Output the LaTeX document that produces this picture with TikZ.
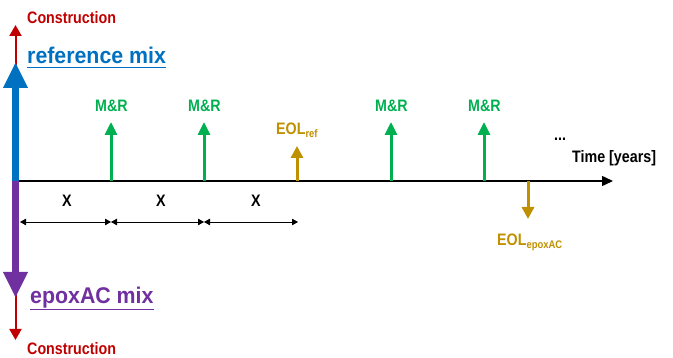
\documentclass[tikz,border=0pt]{standalone}
\usepackage{fontspec}
\setmainfont{Liberation Sans}[FakeStretch=0.86]
\newfontfamily\bigf{Liberation Sans}[FakeStretch=0.94]
\usetikzlibrary{arrows.meta}
\definecolor{cred}{RGB}{192,0,0}
\definecolor{cblue}{RGB}{0,112,192}
\definecolor{cpurple}{RGB}{112,48,160}
\definecolor{cgreen}{RGB}{0,176,80}
\definecolor{cgold}{RGB}{191,144,0}
\tikzset{
  lbl/.style={inner sep=0pt, anchor=base west, font=\bfseries\fontsize{16.6}{16.6}\selectfont},
  big/.style={inner sep=0pt, anchor=base west, font=\bigf\bfseries\fontsize{22.7}{22.7}\selectfont},
  constr/.style={draw=cred, line width=2pt, -{Triangle[width=12pt,length=11pt]}, cred},
  mainup/.style={draw=cblue, line width=6.5pt, -{Triangle[width=23pt,length=26pt]}, cblue},
  maindown/.style={draw=cpurple, line width=6.5pt, -{Triangle[width=23pt,length=26pt]}, cpurple},
  mr/.style={draw=cgreen, line width=3pt, -{Triangle[width=12pt,length=13pt]}, cgreen},
  eol/.style={draw=cgold, line width=3pt, -{Triangle[width=12pt,length=12pt]}, cgold},
  axis/.style={draw=black, line width=1.5pt, -{Triangle[width=10pt,length=11pt]}},
  dim/.style={draw=black, line width=0.8pt, {Triangle[width=6.5pt,length=6pt]}-{Triangle[width=6.5pt,length=6pt]}},
  ul/.style={line width=1.5pt}
}
\begin{document}
\begin{tikzpicture}[x=1pt,y=-1pt]
\useasboundingbox (0,0) rectangle (673,358);
% coordinates
\coordinate (o) at (15.5,181);
\coordinate (ax0) at (19,181);
\coordinate (axend) at (613,181);
\coordinate (ctop0) at (15.5,80);
\coordinate (ctop) at (15.5,25);
\coordinate (btop) at (15.5,62);
\coordinate (cbot0) at (15.5,285);
\coordinate (cbot) at (15.5,340);
\coordinate (pbot) at (15.5,298);
\coordinate (m1a) at (111,181); \coordinate (m1b) at (111,122);
\coordinate (m2a) at (204,181); \coordinate (m2b) at (204,122);
\coordinate (m3a) at (391,181); \coordinate (m3b) at (391,122);
\coordinate (m4a) at (484,181); \coordinate (m4b) at (484,122);
\coordinate (era) at (297,181); \coordinate (erb) at (297,146);
\coordinate (eea) at (528,181); \coordinate (eeb) at (528,219);
\coordinate (d0) at (20,222); \coordinate (d1) at (111,222);
\coordinate (d2) at (204,222); \coordinate (d3) at (298,222);
% vertical main arrows
\draw[constr] (ctop0) -- (ctop);
\draw[constr] (cbot0) -- (cbot);
\draw[mainup] (o) -- (btop);
\draw[maindown] (o) -- (pbot);
% axis
\draw[axis] (ax0) -- (axend);
% event arrows
\draw[mr] (m1a) -- (m1b);
\draw[mr] (m2a) -- (m2b);
\draw[mr] (m3a) -- (m3b);
\draw[mr] (m4a) -- (m4b);
\draw[eol] (era) -- (erb);
\draw[eol] (eea) -- (eeb);
% dimension arrows
\draw[dim] (d0) -- (d1);
\draw[dim] (d1) -- (d2);
\draw[dim] (d2) -- (d3);
% labels
\node[lbl, text=cred] (cons1) at (27,24) {Construction};
\node[lbl, text=cred] (cons2) at (27,355) {Construction};
\node[big, text=cblue] (ref) at (27,64) {reference mix};
\draw[ul, cblue] ([yshift=-3.5pt]ref.base west) -- ([yshift=-3.5pt]ref.base east);
\node[big, text=cpurple] (epx) at (30,304) {epoxAC mix};
\draw[ul, cpurple] ([yshift=-5.5pt]epx.base west) -- ([yshift=-5.5pt]epx.base east);
\node[lbl, text=cgreen, anchor=base] (l1) at (111.5,112) {M\&R};
\node[lbl, text=cgreen, anchor=base] (l2) at (204.5,112) {M\&R};
\node[lbl, text=cgreen, anchor=base] (l3) at (391.5,112) {M\&R};
\node[lbl, text=cgreen, anchor=base] (l4) at (484.5,112) {M\&R};
\node[lbl, text=cgold] (lr) at (276,135) {EOL\raisebox{-3pt}{\fontsize{11}{11}\selectfont ref}};
\node[lbl, text=cgold] (le) at (497,246) {EOL\raisebox{-3pt}{\fontsize{11}{11}\selectfont epoxAC}};
\node[lbl] (dots) at (554,141) {...};
\node[lbl] (time) at (572,163) {Time [years]};
\node[lbl, anchor=base] (x1) at (67,207) {X};
\node[lbl, anchor=base] (x2) at (161,207) {X};
\node[lbl, anchor=base] (x3) at (256,207) {X};
\end{tikzpicture}
\end{document}
